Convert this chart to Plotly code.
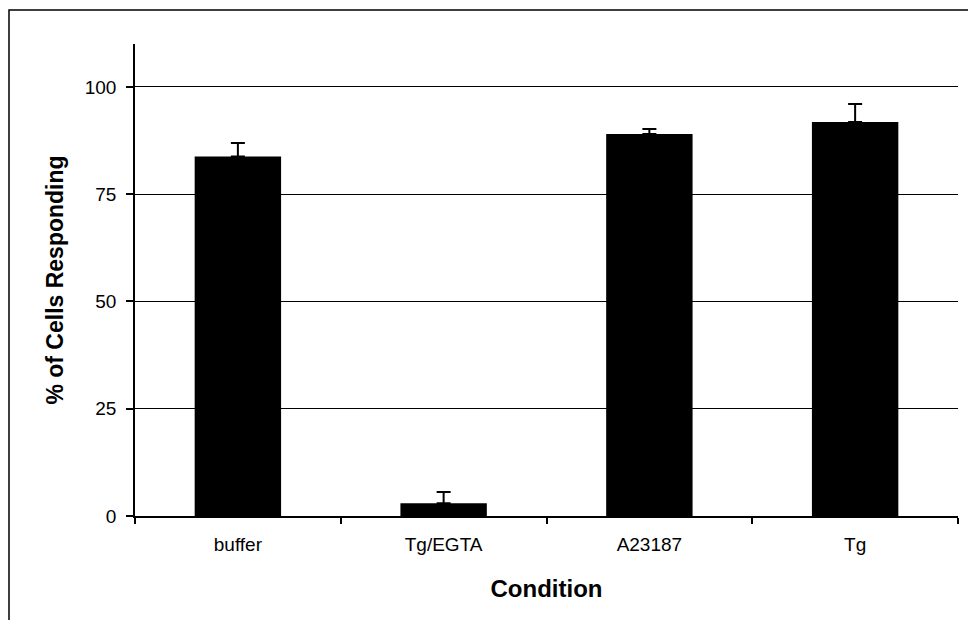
import plotly.graph_objects as go

categories = ["buffer", "Tg/EGTA", "A23187", "Tg"]
values = [83.8, 3.0, 89.0, 91.8]
errors = [3.1, 2.6, 1.2, 4.2]
y_ticks = [0, 25, 50, 75, 100]

L, R, T, B = 135, 10, 44, 104
W, H = 968, 620
pw = W - L - R
ph = H - T - B

fig = go.Figure()
fig.add_trace(go.Bar(
    x=categories, y=values, width=0.42,
    marker=dict(color="black", line=dict(width=0)),
    error_y=dict(type="data", array=errors, symmetric=False, arrayminus=[0]*4,
                 color="black", thickness=2, width=7, visible=True),
    showlegend=False,
))

fig.update_layout(
    width=W, height=H,
    margin=dict(l=L, r=R, t=T, b=B),
    paper_bgcolor="white", plot_bgcolor="white",
    font=dict(family="Liberation Sans, Arial", color="black", size=19),
    xaxis=dict(
        showline=True, linecolor="black", linewidth=1.5,
        ticks="outside", tickson="boundaries", ticklen=6, tickcolor="black", tickwidth=1.5,
        tickfont=dict(size=19), ticklabelstandoff=10,
        title=dict(text="<b>Condition</b>", font=dict(size=24), standoff=27),
        showgrid=False,
    ),
    yaxis=dict(
        range=[0, 110], tickvals=y_ticks, ticktext=[str(v) for v in y_ticks],
        showline=True, linecolor="black", linewidth=1.5,
        ticks="outside", ticklen=7, tickcolor="black", tickwidth=1.5,
        tickfont=dict(size=19), ticklabelstandoff=6,
        showgrid=True, gridcolor="black", gridwidth=1,
        zeroline=False,
        title=dict(text="<b>% of Cells Responding</b>", font=dict(size=23), standoff=15),
    ),
    shapes=[dict(
        type="rect", xref="paper", yref="paper",
        x0=(9 - L) / pw, x1=(W + 20 - L) / pw,
        y0=-0.4, y1=1 + (T - 10) / ph,
        line=dict(color="black", width=1.5), fillcolor="rgba(0,0,0,0)", layer="below",
    )],
)

fig.write_html("out.html")
